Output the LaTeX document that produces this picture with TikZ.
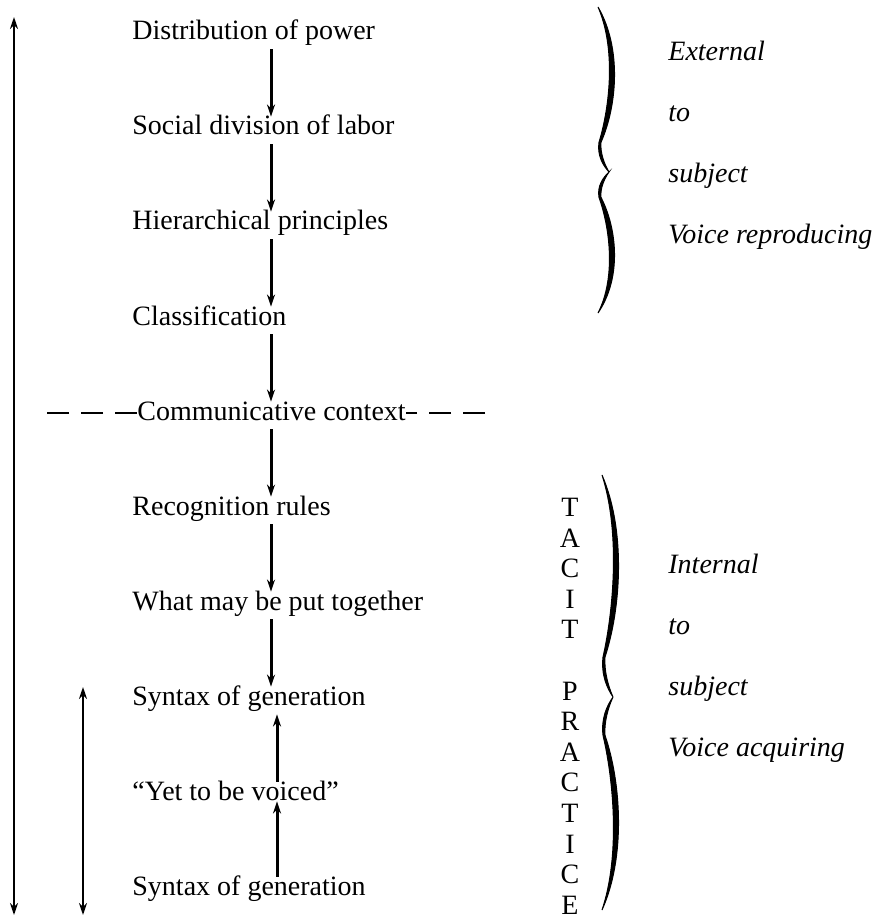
\documentclass[tikz,border=0pt]{standalone}
\usepackage{fontspec}
\setmainfont{Liberation Serif}
\usetikzlibrary{arrows.meta}
\tikzset{
  row/.style={anchor=base west, inner xsep=0pt, inner ysep=2pt, text height=0.7em, text depth=0.25em},
  side/.style={anchor=base west, inner sep=0pt, font=\fontsize{14}{17}\selectfont\itshape},
  letter/.style={inner sep=0pt},
  flow/.style={-{Stealth[length=6pt,width=4pt]}, line width=1.5pt},
  spine/.style={{Stealth[length=6pt,width=4pt]}-{Stealth[length=6pt,width=4pt]}, line width=1.4pt}
}
\newcommand{\halfbrace}{%
  \filldraw[line width=0.5pt] (0,1) .. controls (18,0.75) and (12,0.4) .. (1,0.18)
    .. controls (-1,0.1) and (5,0.04) .. (11,0)
    .. controls (6,0.05) and (2,0.12) .. (3,0.18)
    .. controls (19,0.4) and (24,0.75) .. (0,1) -- cycle;}
\begin{document}
\begin{tikzpicture}[x=0.5pt, y=-0.5pt, font=\fontsize{14}{17}\selectfont]
				  \useasboundingbox (0,0) rectangle (877,919);
				  \node[row] (power) at (132,40) {Distribution of power};
				  \node[row] (labor) at (132,135) {Social division of labor};
				  \node[row] (hier) at (132,230) {Hierarchical principles};
				  \node[row] (class) at (132,325) {Classification};
				  \node[row] (context) at (137,420) {Communicative context};
				  \node[row] (recog) at (132,515) {Recognition rules};
				  \node[row] (together) at (132,610) {What may be put together};
				  \node[row] (syntaxa) at (132,705) {Syntax of generation};
				  \node[row] (voiced) at (132,800) {``Yet to be voiced''};
				  \node[row] (syntaxb) at (132,895) {Syntax of generation};
				  \coordinate (stem) at (271,0);
				  \coordinate (upstem) at (277,0);
				  \draw[flow] (power.south -| stem) -- (labor.north -| stem);
				  \draw[flow] (labor.south -| stem) -- (hier.north -| stem);
				  \draw[flow] (hier.south -| stem) -- (class.north -| stem);
				  \draw[flow] (class.south -| stem) -- (context.north -| stem);
				  \draw[flow] (context.south -| stem) -- (recog.north -| stem);
				  \draw[flow] (recog.south -| stem) -- (together.north -| stem);
				  \draw[flow] (together.south -| stem) -- (syntaxa.north -| stem);
				  \draw[flow] (voiced.north -| upstem) -- (syntaxa.south -| upstem);
				  \draw[flow, shorten >=-4pt] (syntaxb.north -| upstem) -- (voiced.south -| upstem);
				  \coordinate (dashl) at (45,0);
				  \coordinate (dashr) at (485,0);
				  \draw[line width=0.8pt, dash pattern=on 11pt off 6pt] ([yshift=3.5pt]context.base west) -- ([yshift=3.5pt]context.base west -| dashl);
				  \draw[line width=0.8pt, dash pattern=on 11pt off 6pt] ([yshift=3.5pt]context.base east -| dashr) -- ([yshift=3.5pt]context.base east);
				  \coordinate (outtop) at (14,17);
				  \coordinate (outbot) at (14,915);
				  \coordinate (intop) at (83,687);
				  \coordinate (inbot) at (83,915);
				  \draw[spine] (outtop) -- (outbot);
				  \draw[spine] (intop) -- (inbot);
				  \begin{scope}[shift={(598,172)}, yscale=-165]
				    \halfbrace
				  \end{scope}
				  \begin{scope}[shift={(598,172)}, yscale=141]
				    \halfbrace
				  \end{scope}
				  \begin{scope}[shift={(602,697)}, yscale=-222]
				    \halfbrace
				  \end{scope}
				  \begin{scope}[shift={(602,697)}, yscale=213]
				    \halfbrace
				  \end{scope}
				  \node[side] (external) at (668,61) {External};
				  \node[side] (toa) at (668,122) {to};
				  \node[side] (subjecta) at (668,183) {subject};
				  \node[side] (reproducing) at (668,244) {Voice reproducing};
				  \node[side] (internal) at (668,573) {Internal};
				  \node[side] (tob) at (668,634) {to};
				  \node[side] (subjectb) at (668,695) {subject};
				  \node[side] (acquiring) at (668,756) {Voice acquiring};
				  \node[letter] (t1) at (570,507) {T};
				  \node[letter] (a1) at (570,538) {A};
				  \node[letter] (c1) at (570,568) {C};
				  \node[letter] (i1) at (570,599) {I};
				  \node[letter] (t2) at (570,629) {T};
				  \node[letter] (p1) at (570,691) {P};
				  \node[letter] (r1) at (570,721) {R};
				  \node[letter] (a2) at (570,752) {A};
				  \node[letter] (c2) at (570,782) {C};
				  \node[letter] (t3) at (570,813) {T};
				  \node[letter] (i2) at (570,844) {I};
				  \node[letter] (c3) at (570,874) {C};
				  \node[letter] (e1) at (570,905) {E};
				\end{tikzpicture}
\end{document}
